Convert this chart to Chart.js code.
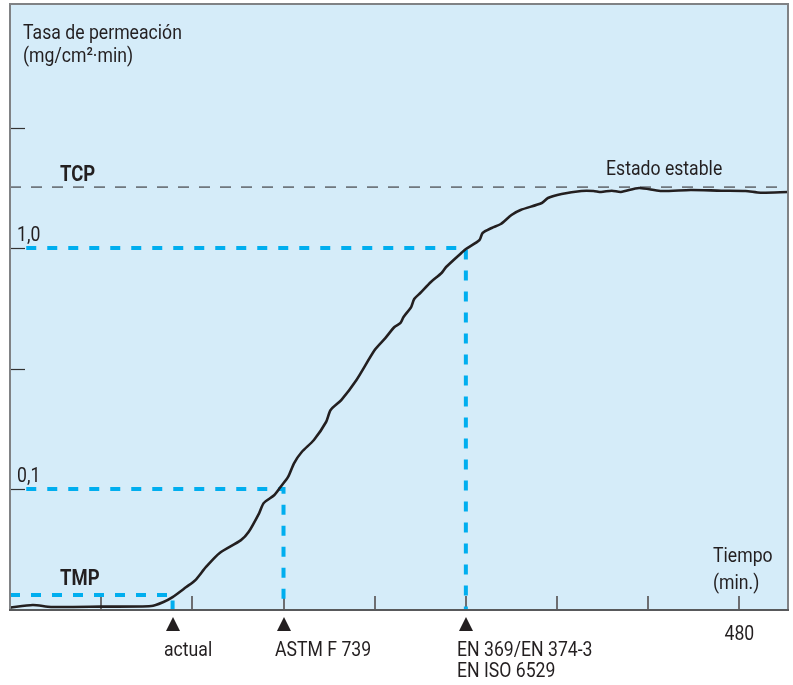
<!DOCTYPE html>
<html>
<head>
<meta charset="utf-8">
<script src="https://cdn.jsdelivr.net/npm/chart.js@4"></script>
<style>
    html, body { margin: 0; padding: 0; background: #ffffff; }
    #wrap { width: 793px; height: 685px; }
</style>
</head>
<body>
<div id="wrap"><canvas id="permChart" width="793" height="685"></canvas></div>
<script>
// tiempo en minutos, tasa en mg/cm2.min (eje logaritmico)
const tiempo = [0, 15, 27, 60, 93, 101, 107, 116, 122, 129, 138, 152, 157, 164, 167, 174, 178, 183, 187, 192, 200, 208, 211, 218, 228, 240, 247, 253, 257, 259, 264, 266, 270, 277, 284, 287, 297, 300, 309, 311, 317, 323, 330, 336, 350, 354, 363, 376, 384, 389, 396, 402, 414, 428, 448, 468, 484, 494, 512];
const tasa = [0.0322, 0.0330, 0.0324, 0.0325, 0.0327, 0.0340, 0.0356, 0.0392, 0.0419, 0.0475, 0.0543, 0.0614, 0.0663, 0.0795, 0.0875, 0.0944, 0.1019, 0.1122, 0.1282, 0.1424, 0.1597, 0.1897, 0.2127, 0.2340, 0.2834, 0.3773, 0.4231, 0.4702, 0.4885, 0.5172, 0.5689, 0.6143, 0.6505, 0.7228, 0.7873, 0.8340, 0.9535, 0.9905, 1.0794, 1.1540, 1.2108, 1.2578, 1.3706, 1.4380, 1.5373, 1.6127, 1.6755, 1.7244, 1.7244, 1.7080, 1.7293, 1.7080, 1.7745, 1.7244, 1.7409, 1.7293, 1.7244, 1.6965, 1.7080];

const tcp = 1.79;
const tmp = 0.0363;
const tiempoActual = 107;
const marcasTiempo = [107, 180, 300];
const marcasEtiquetas = [['actual'], ['ASTM F 739'], ['EN 369/EN 374-3', 'EN ISO 6529']];
const ticksX = [60, 120, 180, 240, 300, 360, 420, 480];
const ticksXEtiquetas = {480: '480'};
const ticksY = [0.1, 0.316, 1, 3.16];
const guiasY = [1, 0.1];
const guiasX = [300, 180];
const guiasEtiquetas = ['1,0', '0,1'];

const yMin = 0.03148;
const yMax = 10.29;
const xMax = 512;

const fuente = 'Roboto, "Liberation Sans", sans-serif';
const estrecho = 0.84;  // letra condensada
const azul = '#00aeef';
const tinta = '#231f20';

let curva = tiempo.map((t, i) => ({x: t, y: tasa[i]}));
let guiaDatasets = guiasY.map((v, i) => ({
    data: [{x: 10.7, y: v}, {x: guiasX[i], y: v}, {x: guiasX[i], y: yMin}],
    borderColor: azul,
    borderWidth: 4,
    borderDash: [10, 11],
    pointRadius: 0,
    tension: 0
}));

function texto(ctx, s, x, y, align) {
    ctx.save();
    ctx.translate(x, y);
    ctx.scale(estrecho, 1);
    ctx.textAlign = align || 'left';
    ctx.fillText(s, 0, 0);
    ctx.restore();
}

let decoracion = {
    id: 'decoracion',
    beforeDatasetsDraw(chart) {
        let ctx = chart.ctx;
        let a = chart.chartArea;
        ctx.save();
        ctx.fillStyle = '#d5ecf9';
        ctx.fillRect(a.left, a.top, a.right - a.left, a.bottom - a.top);
        // marcas del eje x hacia dentro
        ctx.strokeStyle = '#6d6e71';
        ctx.lineWidth = 2;
        ticksX.forEach(v => {
            let px = Math.round(chart.scales.x.getPixelForValue(v));
            ctx.beginPath();
            ctx.moveTo(px, a.bottom);
            ctx.lineTo(px, a.bottom - 14);
            ctx.stroke();
        });
        ctx.strokeStyle = '#333';
        ctx.lineWidth = 1.2;
        ticksY.forEach(v => {
            let py = Math.round(chart.scales.y.getPixelForValue(v)) + 0.5;
            ctx.beginPath();
            ctx.moveTo(a.left, py);
            ctx.lineTo(a.left + 15, py);
            ctx.stroke();
        });
        ctx.restore();
    },
    afterDatasetsDraw(chart) {
        let ctx = chart.ctx;
        let a = chart.chartArea;
        let sx = chart.scales.x;
        let sy = chart.scales.y;
        ctx.save();
        ctx.strokeStyle = '#808285';
        ctx.lineWidth = 2;
        ctx.beginPath();
        ctx.moveTo(a.left, a.bottom);
        ctx.lineTo(a.left, a.top);
        ctx.lineTo(a.right, a.top);
        ctx.lineTo(a.right, a.bottom);
        ctx.stroke();
        ctx.strokeStyle = '#58595b';
        ctx.beginPath();
        ctx.moveTo(a.left - 1, a.bottom);
        ctx.lineTo(a.right + 1, a.bottom);
        ctx.stroke();

        ctx.fillStyle = tinta;
        ctx.textBaseline = 'alphabetic';
        ctx.font = '21px ' + fuente;
        texto(ctx, 'Tasa de permeación', 23, 39);
        texto(ctx, '(mg/cm²·min)', 23, 62);

        guiasY.forEach((v, i) => {
            texto(ctx, guiasEtiquetas[i], 17, sy.getPixelForValue(v) - 7);
        });
        texto(ctx, 'Estado estable', 606, sy.getPixelForValue(tcp) - 12);
        texto(ctx, 'Tiempo', 713, 562);
        texto(ctx, '(min.)', 713, 589);

        ctx.font = 'bold 22px ' + fuente;
        texto(ctx, 'TCP', 60, sy.getPixelForValue(tcp) - 6);
        texto(ctx, 'TMP', 60, sy.getPixelForValue(tmp) - 10);

        ctx.font = '21px ' + fuente;
        Object.keys(ticksXEtiquetas).forEach(k => {
            texto(ctx, ticksXEtiquetas[k], sx.getPixelForValue(Number(k)), 640, 'center');
        });

        // triangulos y normas bajo el eje
        marcasTiempo.forEach((t, i) => {
            let px = Math.round(sx.getPixelForValue(t));
            ctx.beginPath();
            ctx.moveTo(px, a.bottom + 7);
            ctx.lineTo(px + 7, a.bottom + 21);
            ctx.lineTo(px - 7, a.bottom + 21);
            ctx.closePath();
            ctx.fill();
            marcasEtiquetas[i].forEach((linea, j) => {
                texto(ctx, linea, px - 9, 656 + j * 21);
            });
        });
        ctx.restore();
    }
};

new Chart(document.getElementById('permChart').getContext('2d'), {
    type: 'line',
    data: {
        datasets: [
            {
                data: curva,
                borderColor: '#231f20',
                borderWidth: 2.6,
                pointRadius: 0,
                tension: 0.25
            },
            {
                data: [{x: 0, y: tcp}, {x: xMax, y: tcp}],
                borderColor: '#231f20',
                borderWidth: 1,
                borderDash: [11, 10],
                pointRadius: 0
            },
            ...guiaDatasets,
            {
                data: [{x: 0, y: tmp}, {x: tiempoActual, y: tmp}, {x: tiempoActual, y: yMin}],
                borderColor: azul,
                borderWidth: 4,
                borderDash: [10, 11],
                pointRadius: 0,
                tension: 0
            }
        ]
    },
    options: {
        responsive: false,
        animation: false,
        layout: {padding: {left: 10, top: 4, right: 5, bottom: 75}},
        plugins: {legend: {display: false}, tooltip: {enabled: false}},
        scales: {
            x: {type: 'linear', min: 0, max: xMax, display: false},
            y: {type: 'logarithmic', min: yMin, max: yMax, display: false}
        }
    },
    plugins: [decoracion]
});
</script>
</body>
</html>
